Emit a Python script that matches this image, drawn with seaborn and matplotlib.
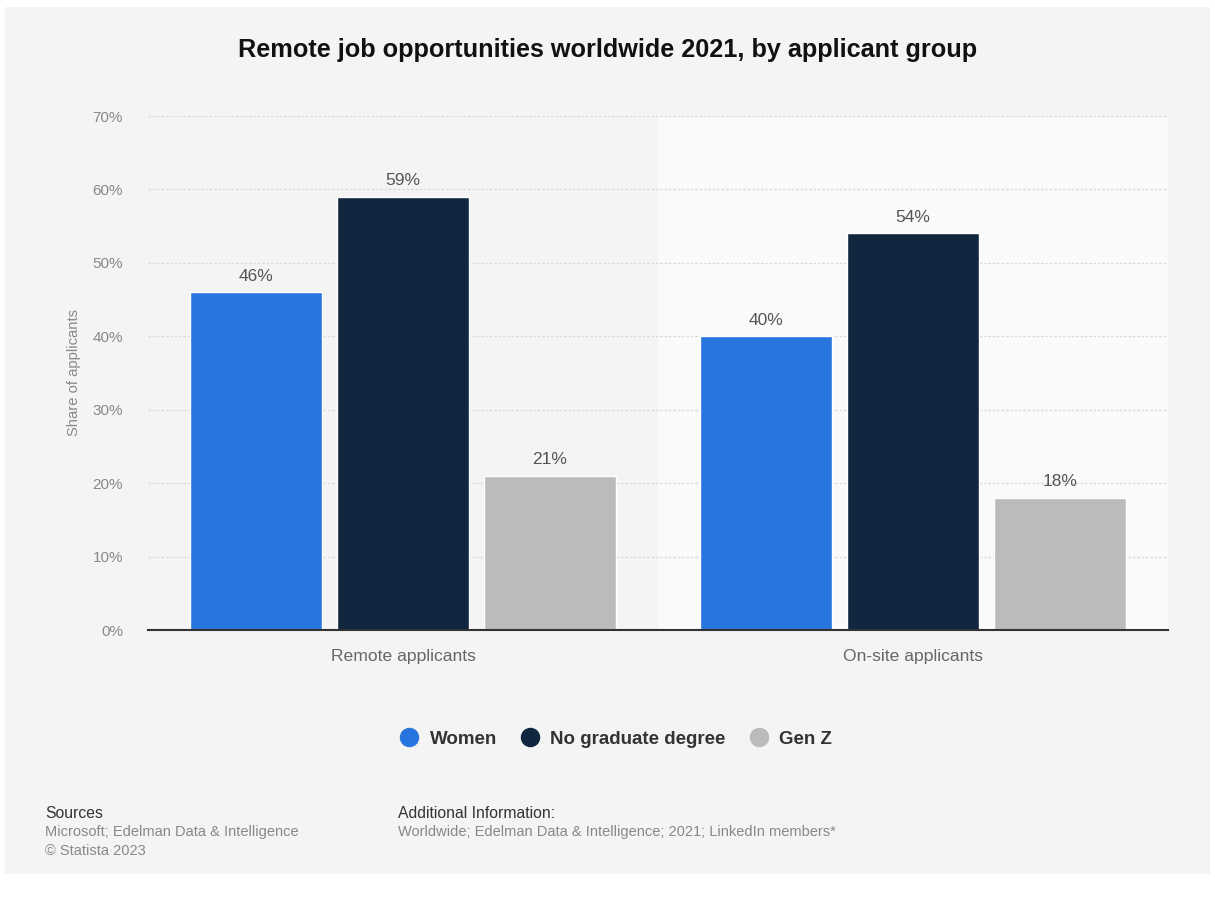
import matplotlib
matplotlib.use("Agg")
import matplotlib.pyplot as plt
from matplotlib.lines import Line2D
from matplotlib.patches import Rectangle
import pandas as pd
import seaborn as sns

# Data
categories = ["Remote applicants", "On-site applicants"]
groups = ["Women", "No graduate degree", "Gen Z"]
women = [46, 40]
no_degree = [59, 54]
gen_z = [21, 18]
y_ticks = [0, 10, 20, 30, 40, 50, 60, 70]

colors = ["#2876dd", "#11263f", "#bbbbbb"]

rows = []
for g, vals in zip(groups, [women, no_degree, gen_z]):
    for c, v in zip(categories, vals):
        rows.append({"category": c, "group": g, "value": v})
df = pd.DataFrame(rows)

sns.set_theme(style="white")
plt.rcParams["font.family"] = ["Liberation Sans", "DejaVu Sans"]

W, H = 1215, 902
fig = plt.figure(figsize=(W / 100, H / 100), dpi=100)
fig.patch.set_facecolor("white")
# grey card behind everything
fig.add_artist(Rectangle((5 / W, 28 / H), 1 - 10 / W, 1 - 35 / H,
                         transform=fig.transFigure, facecolor="#f4f4f4",
                         edgecolor="none", zorder=-10))

ax = fig.add_axes([148 / W, 1 - 630 / H, (1168 - 148) / W, (630 - 116) / H])
ax.set_facecolor("#f4f4f4")
ax.patch.set_alpha(0)

sns.barplot(data=df, x="category", y="value", hue="group", order=categories,
            hue_order=groups, palette=colors, width=0.865, gap=0.1,
            saturation=1, legend=False, ax=ax, zorder=3)

ax.set_xlim(-0.5, 1.5)
ax.set_ylim(0, 70)
ax.axvspan(0.5, 1.5, color="#fafafa", zorder=0)

ax.set_yticks(y_ticks)
ax.set_yticklabels([f"{t}%" for t in y_ticks], color="#888888", fontsize=11)
for t in y_ticks[1:]:
    ax.axhline(t, color="#d9d9d9", lw=0.9, ls=(0, (2, 1.5)), zorder=1)

ax.tick_params(axis="y", length=0, pad=18)
ax.tick_params(axis="x", length=0, pad=14, labelsize=12.6, labelcolor="#666666")
ax.set_xlabel("")
ax.set_ylabel("Share of applicants", color="#888888", fontsize=10.6, labelpad=8)

for s in ["top", "right", "left"]:
    ax.spines[s].set_visible(False)
ax.spines["bottom"].set_color("#333333")
ax.spines["bottom"].set_linewidth(1.5)
ax.spines["bottom"].set_zorder(4)

for cont in ax.containers:
    ax.bar_label(cont, labels=[f"{v:.0f}%" for v in cont.datavalues],
                 padding=6, fontsize=12.5, color="#555555")

fig.text(0.5, 1 - 50 / H, "Remote job opportunities worldwide 2021, by applicant group",
         ha="center", va="center", fontsize=18.2, fontweight="bold", color="#111111")

handles = [Line2D([0], [0], marker="o", ls="none", markersize=13,
                  markerfacecolor=c, markeredgecolor=c) for c in colors]
leg = fig.legend(handles, groups, loc="center", bbox_to_anchor=(0.503, 1 - 739 / H),
                 ncol=3, frameon=False, handletextpad=0.1, columnspacing=0.75,
                 prop={"weight": "bold", "size": 13.5})
for t in leg.get_texts():
    t.set_color("#333333")

fig.text(45 / W, 1 - 813 / H, "Sources", fontsize=11.3, color="#333333", va="center")
fig.text(45 / W, 1 - 832 / H, "Microsoft; Edelman Data & Intelligence", fontsize=10.5,
         color="#888888", va="center")
fig.text(45 / W, 1 - 851 / H, "\u00a9 Statista 2023", fontsize=10.5, color="#888888", va="center")
fig.text(398 / W, 1 - 813 / H, "Additional Information:", fontsize=11.3, color="#333333", va="center")
fig.text(398 / W, 1 - 832 / H, "Worldwide; Edelman Data & Intelligence; 2021; LinkedIn members*",
         fontsize=10.5, color="#888888", va="center")

fig.savefig("out.png", dpi=100, facecolor=fig.get_facecolor())
